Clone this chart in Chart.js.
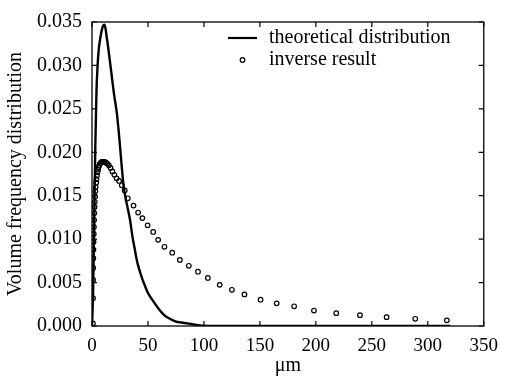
<!DOCTYPE html>
<html>
<head>
<meta charset="utf-8">
<script src="https://cdn.jsdelivr.net/npm/chart.js@4/dist/chart.umd.min.js"></script>
<style>
  html, body { margin: 0; padding: 0; background: #fff; }
  #wrap { width: 507px; height: 378px; position: relative; }
</style>
</head>
<body>
<div id="wrap"><canvas id="c" width="507" height="378"></canvas></div>
<script>
// ---- data ----
const xTickValues = [0, 50, 100, 150, 200, 250, 300, 350];
const yTickValues = [0, 0.005, 0.010, 0.015, 0.020, 0.025, 0.030, 0.035];

const theoX = [0, 1, 2, 3, 4, 5, 6, 7, 8, 9, 10, 11, 12, 13, 14, 15, 16, 18, 20, 22, 24, 26, 28, 30, 32, 34, 36, 38, 40, 42, 45, 48, 50, 55, 60, 65, 70, 75, 80, 85, 90, 95, 100, 110, 150, 200, 250, 300, 320];
const theoY = [0, 0.004, 0.012, 0.021, 0.027, 0.0300, 0.0318, 0.0328, 0.0336, 0.0342, 0.0346, 0.0347, 0.0343, 0.0334, 0.0325, 0.0315, 0.0305, 0.0284, 0.0264, 0.0247, 0.0222, 0.0192, 0.0164, 0.0147, 0.0135, 0.0122, 0.0104, 0.0090, 0.0076, 0.0066, 0.0054, 0.0044, 0.0038, 0.0028, 0.0019, 0.0012, 0.0008, 0.0005, 0.0004, 0.0003, 0.0002, 0.0001, 0.00003, 0, 0, 0, 0, 0, 0];

const invX = [0.8, 0.9, 1.0, 1.1, 1.2, 1.3, 1.4, 1.6, 1.7, 1.9, 2.1, 2.3, 2.5, 2.8, 3.0, 3.3, 3.7, 4.0, 4.4, 4.9, 5.4, 5.9, 6.5, 7.1, 7.8, 8.6, 9.4, 10.4, 11.4, 12.5, 13.7, 15.1, 16.6, 18.2, 20.0, 22.0, 24.2, 26.6, 29.2, 32.0, 37.1, 41.2, 45.0, 49.7, 54.7, 59.1, 64.7, 71.7, 78.5, 86.5, 94.7, 103.5, 114.1, 125.0, 136.2, 150.6, 165.0, 180.6, 198.3, 218.2, 239.4, 263.2, 288.8, 317.0];
const invY = [0.0003, 0.0032, 0.0053, 0.0067, 0.0078, 0.0088, 0.0097, 0.0106, 0.0114, 0.0122, 0.0130, 0.0137, 0.0143, 0.0149, 0.0155, 0.0160, 0.0165, 0.0169, 0.0173, 0.0177, 0.0180, 0.0183, 0.0185, 0.0187, 0.0188, 0.0189, 0.0189, 0.0189, 0.0189, 0.0188, 0.0187, 0.0185, 0.0182, 0.0178, 0.0174, 0.0170, 0.0167, 0.0162, 0.0156, 0.0147, 0.01386, 0.01306, 0.01242, 0.01159, 0.01083, 0.00992, 0.00912, 0.00844, 0.00761, 0.00693, 0.00625, 0.00553, 0.00474, 0.00417, 0.00364, 0.00303, 0.00261, 0.00227, 0.00178, 0.00148, 0.00125, 0.00102, 0.00083, 0.00065];

const seriesNames = ['theoretical distribution', 'inverse result'];
const xTitle = 'μm';
const yTitle = 'Volume frequency distribution';

// ---- chart ----
const FONT = '"Liberation Serif", "Times New Roman", serif';

const theoData = theoX.map((x, i) => ({ x: x, y: theoY[i] }));
const invData = invX.map((x, i) => ({ x: x, y: invY[i] }));

const framePlugin = {
  id: 'frame',
  afterDatasetsDraw(chart) {
    const { ctx, chartArea: a, scales } = chart;
    ctx.save();
    ctx.strokeStyle = '#000';
    ctx.lineWidth = 1.3;
    ctx.strokeRect(a.left, a.top, a.right - a.left, a.bottom - a.top);
    const tl = 5;
    ctx.lineWidth = 1.2;
    ctx.beginPath();
    scales.x.ticks.forEach(t => {
      const px = scales.x.getPixelForValue(t.value);
      ctx.moveTo(px, a.bottom); ctx.lineTo(px, a.bottom - tl);
      ctx.moveTo(px, a.top); ctx.lineTo(px, a.top + tl);
    });
    scales.y.ticks.forEach(t => {
      const py = scales.y.getPixelForValue(t.value);
      ctx.moveTo(a.left, py); ctx.lineTo(a.left + tl, py);
      ctx.moveTo(a.right, py); ctx.lineTo(a.right - tl, py);
    });
    ctx.stroke();

    // legend
    ctx.fillStyle = '#000';
    ctx.font = '20px ' + FONT;
    ctx.textBaseline = 'middle';
    ctx.textAlign = 'left';
    const row1 = 38, row2 = 60, lx0 = 228, lx1 = 257, tx = 269;
    ctx.lineWidth = 2.2;
    ctx.beginPath(); ctx.moveTo(lx0, row1); ctx.lineTo(lx1, row1); ctx.stroke();
    ctx.fillText(seriesNames[0], tx, row1);
    ctx.lineWidth = 1.2;
    ctx.beginPath(); ctx.arc((lx0 + lx1) / 2, row2, 2.3, 0, Math.PI * 2); ctx.stroke();
    ctx.fillText(seriesNames[1], tx, row2);
    ctx.restore();
  }
};

new Chart(document.getElementById('c'), {
  type: 'scatter',
  data: {
    datasets: [
      {
        label: seriesNames[0],
        data: theoData,
        showLine: true,
        borderColor: '#000',
        borderWidth: 2.4,
        pointRadius: 0,
        cubicInterpolationMode: 'monotone',
        order: 2
      },
      {
        label: seriesNames[1],
        data: invData,
        showLine: false,
        pointStyle: 'circle',
        pointRadius: 2.3,
        pointBorderWidth: 1.2,
        pointBorderColor: '#000',
        pointBackgroundColor: 'rgba(255,255,255,0)',
        order: 1
      }
    ]
  },
  options: {
    responsive: false,
    animation: false,
    devicePixelRatio: 1,
    layout: { padding: { top: 16, right: 19, left: 0, bottom: 0 } },
    plugins: { legend: { display: false }, tooltip: { enabled: false } },
    scales: {
      x: {
        type: 'linear',
        min: 0, max: 350,
        afterBuildTicks(scale) { scale.ticks = xTickValues.map(v => ({ value: v })); },
        afterFit(scale) { scale.height = 52; },
        grid: { display: false, drawTicks: false },
        border: { display: false },
        ticks: {
          color: '#000',
          padding: 9,
          maxRotation: 0,
          font: { family: FONT, size: 19 },
          callback: v => String(v)
        },
        title: {
          display: true, text: xTitle, color: '#000',
          font: { family: FONT, size: 20 },
          padding: { top: 0, bottom: 0 }
        }
      },
      y: {
        type: 'linear',
        min: 0, max: 0.035,
        afterBuildTicks(scale) { scale.ticks = yTickValues.map(v => ({ value: v })); },
        afterFit(scale) { scale.width = 92; },
        grid: { display: false, drawTicks: false },
        border: { display: false },
        ticks: {
          color: '#000',
          padding: 10,
          font: { family: FONT, size: 20 },
          callback: v => Number(v).toFixed(3)
        },
        title: {
          display: true, text: yTitle, color: '#000',
          font: { family: FONT, size: 20 },
          padding: { top: 4, bottom: 0 }
        }
      }
    }
  },
  plugins: [framePlugin]
});
</script>
</body>
</html>
